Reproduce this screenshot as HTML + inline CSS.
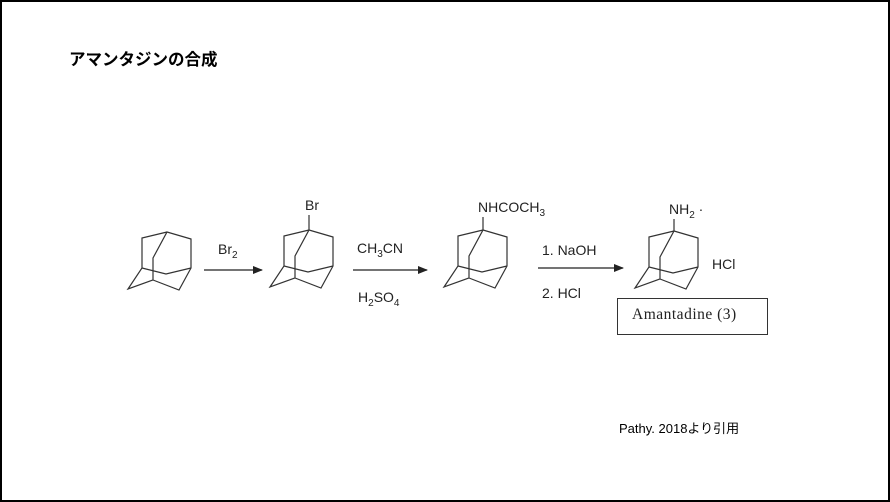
<!DOCTYPE html>
<html><head><meta charset="utf-8"><style>
body{margin:0;background:#fff}
.f{position:relative;width:886px;height:498px;border:2px solid #000;overflow:hidden;font-family:"Liberation Sans","Noto Sans CJK JP",sans-serif}
.t{position:absolute;white-space:nowrap;color:#222}
</style></head><body><div class="f">
<div class="t" style="left:67px;top:44px;font-size:16.5px;font-weight:bold;color:#000">アマンタジンの合成</div>
<svg width="886" height="498" style="position:absolute;left:-1px;top:-1px">
<defs>
<g id="ad" fill="none" stroke="#333" stroke-width="1.2">
<path d="M166,231 L141,237 L141,267 L127,288 L152,279 L152,257 L166,231 L190,238 L190,267 L178,289 L152,279 M141,267 L165,273 L190,267"/>
</g>
<marker id="ar" markerWidth="10" markerHeight="8" refX="9" refY="4" orient="auto" markerUnits="userSpaceOnUse"><path d="M0,0 L10,4 L0,8z" fill="#222"/></marker>
</defs>
<use href="#ad"/>
<use href="#ad" x="142" y="-2"/>
<use href="#ad" x="316" y="-2"/>
<use href="#ad" x="507" y="-1"/>
<path d="M308,229 V214 M482,229 V216 M673,230 V218" stroke="#333" stroke-width="1.2"/>
<g stroke="#222" stroke-width="1.2" marker-end="url(#ar)">
<line x1="203" y1="269" x2="261" y2="269"/>
<line x1="352" y1="269" x2="426" y2="269"/>
<line x1="537" y1="267" x2="622" y2="267"/>
</g>
<rect x="616.5" y="297.5" width="150" height="36" fill="none" stroke="#333"/>
</svg>
<div class="t" style="left:216px;top:239px;font-size:14px">Br<sub style="font-size:10px">2</sub></div>
<div class="t" style="left:303px;top:195px;font-size:14px">Br</div>
<div class="t" style="left:355px;top:238px;font-size:14px">CH<sub style="font-size:10px">3</sub>CN</div>
<div class="t" style="left:356px;top:287px;font-size:14px">H<sub style="font-size:10px">2</sub>SO<sub style="font-size:10px">4</sub></div>
<div class="t" style="left:476px;top:197px;font-size:14px">NHCOCH<sub style="font-size:10px">3</sub></div>
<div class="t" style="left:540px;top:240px;font-size:14px">1. NaOH</div>
<div class="t" style="left:540px;top:283px;font-size:14px">2. HCl</div>
<div class="t" style="left:667px;top:199px;font-size:14px">NH<sub style="font-size:10px">2</sub> ·</div>
<div class="t" style="left:710px;top:254px;font-size:14px">HCl</div>
<div class="t" style="left:630px;top:304px;font-size:15.5px;font-family:'Liberation Serif',serif;letter-spacing:0.5px">Amantadine (3)</div>
<div class="t" style="left:617px;top:416px;font-size:13px;color:#000">Pathy. 2018より引用</div>
</div></body></html>
